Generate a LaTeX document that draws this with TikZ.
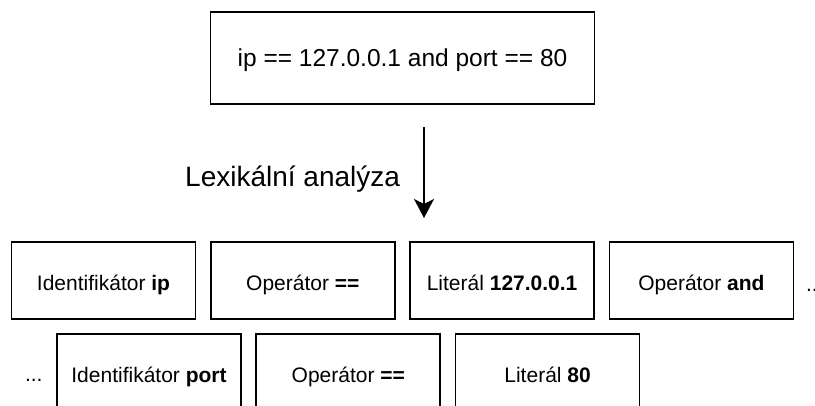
\documentclass[tikz,border=0pt]{standalone}
\usepackage{fontspec}
\setmainfont{Liberation Sans}
\usetikzlibrary{arrows.meta}

\begin{document}
\begin{tikzpicture}[x=1pt,y=-1pt,
  every node/.style={inner sep=0pt,outer sep=0pt},
  exprbox/.style={draw,line width=1.7pt,minimum width=384pt,minimum height=92pt,
    font=\fontsize{24.5}{29}\selectfont,text height=16pt,text depth=0pt},
  tokenbox/.style={draw,line width=1.7pt,minimum width=184pt,minimum height=77pt,
    font=\fontsize{21}{25}\selectfont,text height=19pt,text depth=0pt},
  steplabel/.style={font=\fontsize{28}{33}\selectfont},
  moretext/.style={font=\fontsize{21}{25}\selectfont},
  flow/.style={line width=1.7pt,-{Stealth[length=19pt,width=20pt,inset=5pt]}}
]
\useasboundingbox (0,0) rectangle (815,405);

% source expression
\node[exprbox] (expr) at (402.5,58) {ip == 127.0.0.1 and port == 80};

% lexer step
\coordinate (lexstart) at (424,127);
\coordinate (lexend) at (424,218);
\draw[flow] (lexstart) -- (lexend);
\node[steplabel,anchor=base east] (lexlabel) at (400,186) {Lexikální analýza};

% first row of tokens
\node[tokenbox] (t1) at (103.5,280.5) {Identifikátor \textbf{ip}};
\node[tokenbox] (t2) at (302.8,280.5) {Operátor \textbf{==}};
\node[tokenbox] (t3) at (502.1,280.5) {Literál \textbf{127.0.0.1}};
\node[tokenbox] (t4) at (701.4,280.5) {Operátor \textbf{and}};
\node[moretext,anchor=base west] (more1) at (806,291) {...};

% second row of tokens
\node[moretext,anchor=base west] (more2) at (25,381) {...};
\node[tokenbox] (t5) at (149,372.5) {Identifikátor \textbf{port}};
\node[tokenbox] (t6) at (348.3,372.5) {Operátor \textbf{==}};
\node[tokenbox] (t7) at (547.6,372.5) {Literál \textbf{80}};
\end{tikzpicture}
\end{document}
